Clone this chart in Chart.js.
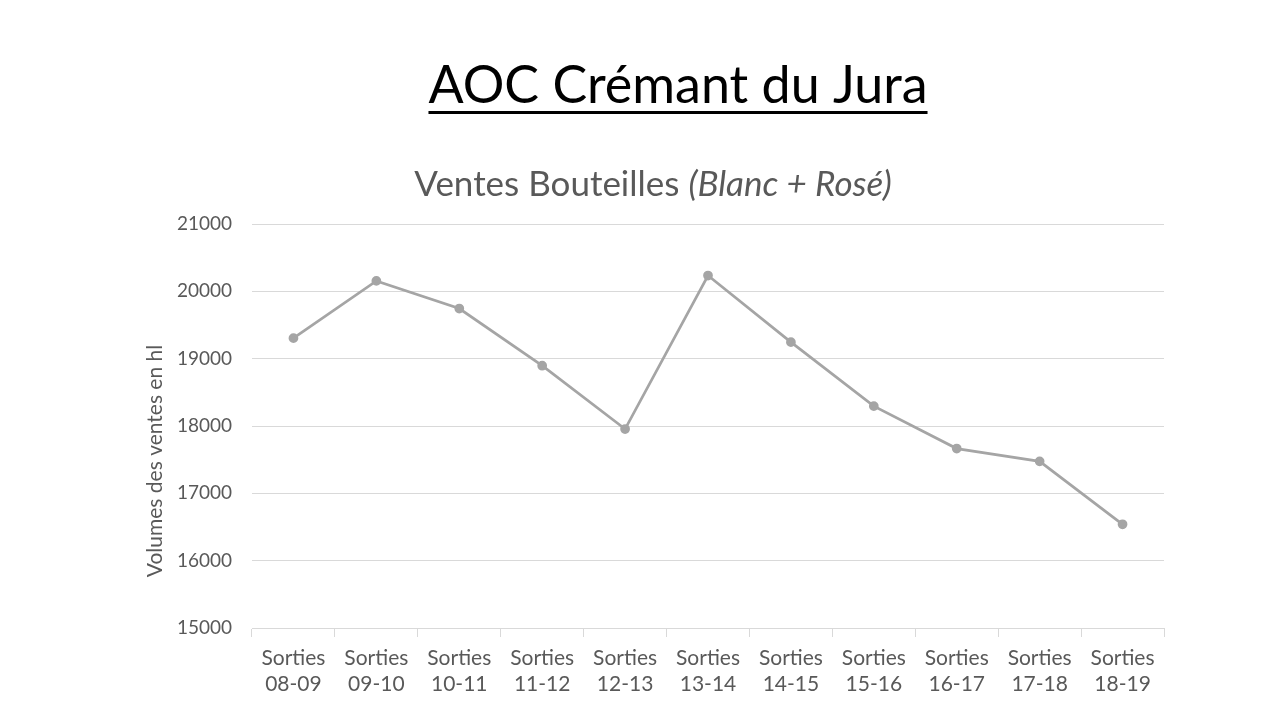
<!DOCTYPE html>
<html>
<head>
<meta charset="utf-8">
<script src="https://cdn.jsdelivr.net/npm/chart.js@4"></script>
<style>
  html, body { margin: 0; padding: 0; background: #fff; }
  #wrap { width: 1280px; height: 720px; position: relative; }
</style>
</head>
<body>
<div id="wrap"><canvas id="myChart" width="1280" height="720"></canvas></div>
<script>
const categories = ["08-09", "09-10", "10-11", "11-12", "12-13", "13-14", "14-15", "15-16", "16-17", "17-18", "18-19"];
const ventes = [19305, 20155, 19745, 18895, 17955, 20235, 19245, 18295, 17665, 17475, 16540];
const yTicks = [15000, 16000, 17000, 18000, 19000, 20000, 21000];

const mainTitle = "AOC Crémant du Jura";
const subTitle = "Ventes Bouteilles ";
const subTitleItalic = "(Blanc + Rosé)";
const yTitle = "Volumes des ventes en hl";

const FONT = "Lato, 'Open Sans', sans-serif";
const GREY = "#595959";

// titles drawn by hand so the subtitle can mix roman + italic
const titles = {
  id: "titles",
  afterDraw(chart) {
    const ctx = chart.ctx;
    ctx.save();
    ctx.fillStyle = "#000";
    ctx.font = "52px " + FONT;
    ctx.textBaseline = "alphabetic";
    ctx.textAlign = "left";
    const w = ctx.measureText(mainTitle).width;
    const x0 = 678 - w / 2;
    ctx.fillText(mainTitle, x0, 103);
    ctx.fillRect(x0, 111, w, 3);

    ctx.fillStyle = GREY;
    ctx.font = "35px " + FONT;
    const w1 = ctx.measureText(subTitle).width;
    ctx.font = "italic 35px " + FONT;
    const w2 = ctx.measureText(subTitleItalic).width;
    const sx = 653 - (w1 + w2) / 2;
    ctx.font = "35px " + FONT;
    ctx.fillText(subTitle, sx, 196);
    ctx.font = "italic 35px " + FONT;
    ctx.fillText(subTitleItalic, sx + w1, 196);

    ctx.font = "21px " + FONT;
    ctx.translate(155, 461);
    ctx.rotate(-Math.PI / 2);
    ctx.textAlign = "center";
    ctx.textBaseline = "middle";
    ctx.fillText(yTitle, 0, 0);
    ctx.restore();
  }
};

const config = {
  type: "line",
  data: {
    labels: categories.map(c => ["Sorties", c]),
    datasets: [
      {
        label: "Ventes",
        data: ventes,
        borderColor: "#a5a5a5",
        backgroundColor: "#a5a5a5",
        borderWidth: 2.75,
        pointRadius: 3.5,
        pointHoverRadius: 3.5,
        tension: 0
      }
    ]
  },
  options: {
    responsive: false,
    animation: false,
    layout: {
      padding: { left: 0, right: 116, top: 224, bottom: 2 }
    },
    plugins: {
      legend: { display: false },
      tooltip: { enabled: false }
    },
    scales: {
      x: {
        offset: true,
        grid: {
          offset: true,
          drawOnChartArea: false,
          drawTicks: true,
          tickLength: 9,
          color: "#d9d9d9"
        },
        border: { color: "#d9d9d9", width: 1 },
        ticks: {
          color: GREY,
          font: { family: FONT, size: 21 },
          maxRotation: 0,
          autoSkip: false,
          padding: 9
        },
        afterFit(scale) { scale.height = 90; }
      },
      y: {
        min: 15000,
        max: 21000,
        afterBuildTicks(scale) {
          scale.ticks = yTicks.map(v => ({ value: v }));
        },
        grid: {
          color: "#d9d9d9",
          drawTicks: false
        },
        border: { display: false },
        ticks: {
          color: GREY,
          font: { family: FONT, size: 19 },
          padding: 20,
          callback: v => String(v)
        },
        afterFit(scale) { scale.width = 252; }
      }
    }
  },
  plugins: [titles]
};

new Chart(document.getElementById("myChart").getContext("2d"), config);
</script>
</body>
</html>
